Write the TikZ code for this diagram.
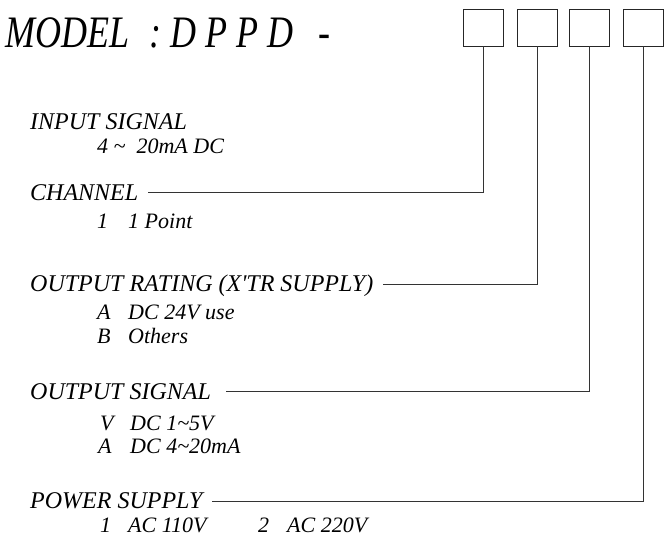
\documentclass[tikz,border=0pt]{standalone}
\usepackage{fontspec}
\setmainfont{Liberation Serif}
\newfontfamily\titlefont[FakeStretch=0.8]{Liberation Serif}
\begin{document}
\begin{tikzpicture}[x=1pt,y=-1pt,
  codebox/.style={draw=black!85,line width=0.8pt,minimum width=40pt,minimum height=37pt,inner sep=0pt},
  conn/.style={draw=black!80,line width=0.8pt},
  ttl/.style={anchor=base west,inner sep=0pt,font=\titlefont\itshape\fontsize{45}{45}\selectfont},
  head/.style={anchor=base west,inner sep=0pt,font=\itshape\fontsize{24}{24}\selectfont},
  item/.style={anchor=base west,inner sep=0pt,font=\itshape\fontsize{22}{22}\selectfont}]
\useasboundingbox (0,0) rectangle (669,536);
% title
\node[ttl] (tm) at (5,47) {MODEL};
\node[ttl] (tc) at (149,47) {:};
\node[ttl] (td) at (170,47) {D P P D};
\node[ttl] (tdash) at (318,47) {-};
% boxes
\node[codebox] (b1) at (483.5,27.5) {};
\node[codebox] (b2) at (537,27.5) {};
\node[codebox] (b3) at (589.5,27.5) {};
\node[codebox] (b4) at (643.5,27.5) {};
% headings
\node[head] (h0) at (30,129) {INPUT SIGNAL};
\node[item] (i0) at (97,153) {4 \textasciitilde\ \ 20mA DC};
\node[head] (h1) at (30,200) {CHANNEL};
\node[item] (i1a) at (97,228) {1};
\node[item] (i1b) at (128,228) {1 Point};
\node[head] (h2) at (30,291) {OUTPUT RATING (X\textquotesingle TR SUPPLY)};
\node[item] (i2a) at (97,319) {A};
\node[item] (i2b) at (128,319) {DC 24V use};
\node[item] (i2c) at (97,343) {B};
\node[item] (i2d) at (128,343) {Others};
\node[head] (h3) at (30,399) {OUTPUT SIGNAL};
\node[item] (i3a) at (100,430) {V};
\node[item] (i3b) at (130,430) {DC 1\textasciitilde 5V};
\node[item] (i3c) at (98,453) {A};
\node[item] (i3d) at (130,453) {DC 4\textasciitilde 20mA};
\node[head] (h4) at (30,508) {POWER SUPPLY};
\node[item] (i4a) at (100,532) {1};
\node[item] (i4b) at (128,532) {AC 110V};
\node[item] (i4c) at (258,532) {2};
\node[item] (i4d) at (287,532) {AC 220V};
% connector ends
\coordinate (e1) at (148,192);
\coordinate (e2) at (383,284);
\coordinate (e3) at (226,391);
\coordinate (e4) at (212,501);
\draw[conn] (b1.south) |- (e1);
\draw[conn] (b2.south) |- (e2);
\draw[conn] (b3.south) |- (e3);
\draw[conn] (b4.south) |- (e4);
\end{tikzpicture}
\end{document}
